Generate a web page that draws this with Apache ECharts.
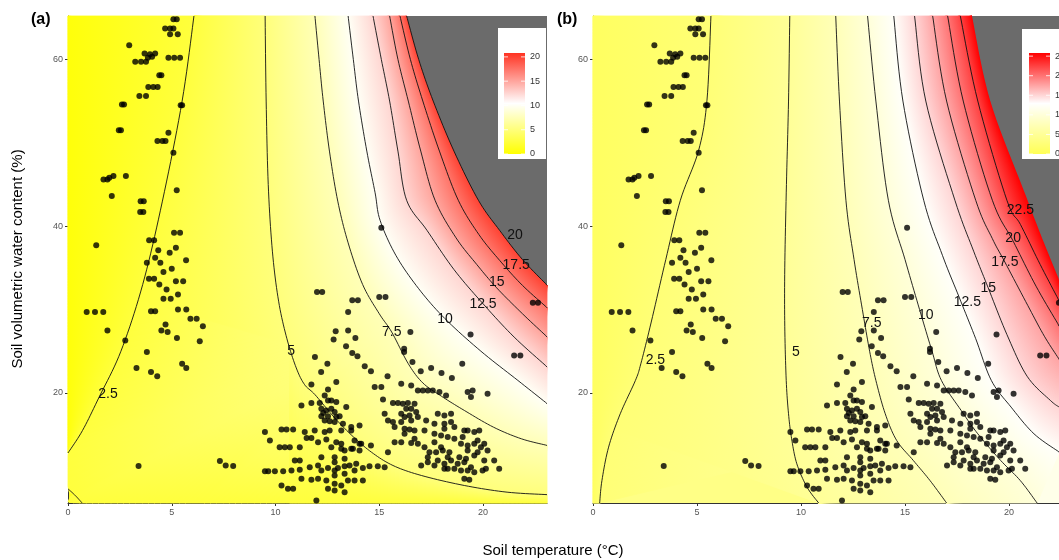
<!DOCTYPE html>
<html>
<head>
<meta charset="utf-8">
<script src="https://cdn.jsdelivr.net/npm/echarts@6/dist/echarts.min.js"></script>
<style>
html, body { margin: 0; padding: 0; background: #fff; }
#main { width: 1059px; height: 560px; }
</style>
</head>
<body>
<div id="main"></div>
<script>
// axis ticks
var xTicks = [0, 5, 10, 15, 20];
var yTicks = [20, 40, 60];
var legendTicksA = [0, 5, 10, 15, 20];
var legendTicksB = [0, 5, 10, 15, 20, 25];

// observations [soil temperature, water content], same in both panels
var soilPoints = [
  [5.08,64.8],[5.24,64.8],[4.68,63.7],[4.92,63.7],[5.08,63.7],[4.92,63.0],[5.29,63.0],
  [2.95,61.7],[3.24,59.7],[3.52,59.7],[3.76,59.7],[3.69,60.7],[3.95,60.6],[4.2,60.7],
  [3.85,60.2],[4.05,60.3],[4.84,60.2],[5.12,60.2],[5.4,60.2],[4.40,58.1],[4.50,58.1],
  [3.87,56.7],[4.11,56.7],[4.32,56.7],[3.44,55.6],[3.76,55.6],[2.60,54.6],[2.70,54.6],
  [5.43,54.5],[5.50,54.5],[2.45,51.5],[2.55,51.5],[4.84,51.2],[4.31,50.2],[4.55,50.2],
  [4.7,50.2],[5.08,48.8],[1.71,45.6],[1.9,45.6],[1.99,45.8],[2.19,46.0],[2.79,46.0],
  [2.11,43.6],[5.24,44.3],[3.5,43.0],[3.65,43.0],
  [3.48,41.7],[3.63,41.7],[1.36,37.7],[3.91,38.3],[4.15,38.3],[4.35,37.1],[5.11,39.2],
  [5.4,39.2],[5.69,35.9],[4.2,36.2],[4.45,35.6],[4.6,34.5],[3.9,33.7],[4.15,33.7],
  [4.4,33.0],[4.75,32.4],[5.2,33.4],[5.55,33.4],[4.6,31.3],[4.95,31.3],[4.0,29.8],
  [4.2,29.8],[5.3,30.0],[5.7,30.0],[5.9,28.9],[6.2,28.9],[6.5,28.0],[6.35,26.2],
  [4.5,27.5],[4.8,27.3],[5.25,26.6],[5.5,23.5],[5.7,23.0],[4.0,22.5],[4.3,22.0],
  [1.9,27.5],[0.9,29.7],[1.3,29.7],[1.7,29.7],[2.76,26.3],[3.3,23.0],[3.8,24.9],
  [5.0,34.9],[5.3,31.8],[4.7,28.2],[3.8,35.6],[4.9,36.8],[5.2,37.4],
  [15.1,39.8],[12.0,32.1],[12.25,32.1],[13.7,31.1],[13.97,31.1],[15.0,31.5],[15.3,31.5],
  [13.5,29.7],[12.8,26.4],[12.9,27.4],[13.5,27.5],[13.85,26.6],[13.4,25.6],[13.7,24.8],
  [13.95,24.4],[14.3,23.2],[14.6,22.6],[16.2,24.9],[16.5,27.3],[16.2,25.3],[16.6,23.7],
  [17.0,22.6],[17.5,23.0],[18.0,22.4],[18.5,21.8],[19.4,27.0],[19.0,23.5],[21.5,24.5],
  [21.8,24.5],[22.4,30.8],[22.65,30.8],[15.4,22.0],[12.2,22.5],[12.5,23.5],[11.9,24.3],
  [3.40,11.24],[7.32,11.84],[7.60,11.3],[7.96,11.24],[9.49,15.3],[9.73,14.3],
  [9.49,10.6],[9.65,10.6],[9.97,10.6],[10.37,10.6],[10.77,10.7],[11.17,10.8],
  [10.29,8.9],[10.6,8.5],[10.85,8.5],[10.29,15.6],[10.53,15.6],[10.85,15.6],
  [10.2,13.5],[10.45,13.5],[10.69,13.5],[11.17,13.5],[10.93,11.9],[11.17,11.9],
  [11.25,18.5],[11.73,18.8],[12.13,18.8],[12.53,19.1],[12.93,18.9],[11.73,21.0],
  [12.53,20.4],[12.93,21.3],[11.41,15.3],[11.89,15.5],[12.37,15.3],[12.61,15.5],
  [11.5,14.6],[11.73,14.6],[12.05,14.1],[12.45,14.4],[12.93,14.1],[13.17,13.9],
  [12.21,12.3],[12.85,12.3],[13.33,12.1],[12.3,17.6],[12.45,17.9],[12.21,17.2],
  [12.53,17.2],[12.69,18.1],[12.61,16.6],[12.85,16.5],[13.09,17.2],[11.65,11.1],
  [12.05,11.3],[12.21,10.7],[12.53,11.0],[12.85,10.7],[13.01,11.0],[13.33,11.2],
  [11.25,9.7],[11.73,9.6],[12.05,9.7],[12.45,9.5],[12.85,9.1],[13.17,8.9],[11.97,7.1],
  [12.53,8.5],[12.85,8.3],[13.33,8.1],[13.65,15.5],[14.05,16.1],[13.81,14.3],
  [14.13,13.9],[14.6,13.7],[13.33,13.1],[13.65,13.3],[14.05,13.1],[13.57,11.3],
  [13.89,11.5],[14.21,11.0],[14.53,11.2],[14.93,11.2],[15.26,11.1],[13.49,9.5],
  [13.81,9.5],[14.21,9.5],[15.42,12.9],[14.78,20.7],[15.1,20.7],[15.18,19.2],
  [15.66,18.8],[15.9,18.8],[16.14,18.7],[16.38,18.8],[16.7,18.7],[15.66,16.5],
  [16.06,16.5],[16.22,17.1],[15.74,14.1],[16.06,14.1],[16.54,14.0],[16.86,13.9],
  [16.22,15.7],[16.46,15.6],[16.7,15.5],[17.18,15.5],[16.3,18.1],[16.54,18.1],
  [16.78,17.7],[16.46,17.3],[16.06,21.1],[16.54,20.9],[16.86,20.3],[17.1,20.3],
  [17.34,20.3],[17.58,20.3],[17.9,20.1],[18.22,19.7],[17.02,11.3],[17.34,11.7],
  [17.66,11.3],[18.14,11.5],[17.42,12.9],[17.74,12.9],[18.06,13.1],[18.38,12.9],
  [17.66,15.1],[17.98,14.9],[18.3,14.7],[18.62,14.5],[19.02,14.7],[17.82,17.5],
  [18.14,17.3],[18.46,17.5],[18.14,16.3],[18.46,16.5],[18.3,10.9],[18.62,10.9],
  [18.94,10.7],[18.86,12.3],[19.18,12.1],[19.58,12.5],[20.06,11.9],[19.1,9.7],
  [19.34,9.6],[19.26,20.1],[19.42,19.5],[19.5,20.3],[20.22,19.9],[19.26,15.5],
  [19.58,15.3],[19.82,15.5],[19.26,13.1],[19.74,12.9],[20.22,13.1],[19.98,10.7],
  [20.14,10.9],[20.78,10.9],[19.58,13.9],[20.06,13.9],[20.54,11.9],
  [12.37,19.7],[12.69,19.1],[12.21,18.1],[12.85,17.7],[13.41,18.3],[12.37,16.7],
  [12.93,17.1],[13.25,16.3],[13.17,15.5],[13.65,15.9],[12.69,13.5],[13.17,13.3],
  [13.73,13.3],[14.05,13.9],[12.85,11.7],[13.33,10.3],[13.81,10.7],[12.85,10.1],
  [16.06,17.5],[16.54,16.7],[16.86,17.1],[17.26,16.7],[16.22,15.1],[16.7,14.5],
  [17.18,13.5],[17.66,14.1],[17.98,13.5],[18.3,12.3],[17.34,12.3],[17.82,11.9],
  [18.46,11.9],[18.78,11.5],[19.1,11.7],[19.42,11.1],[18.14,10.9],[19.26,10.7],
  [19.58,10.5],[17.66,16.3],[18.14,15.7],[18.62,15.9],[19.1,15.5],[18.94,13.9],
  [19.26,13.7],[19.74,14.3],[19.9,13.5],[15.26,17.5],[15.42,16.7],[15.74,15.9]
];

// panel (a) contour lines, each from the top edge downwards
var a25 = [[6.07,65.2],[5.5,55],[4.55,43],[3.6,33],[2.55,25],[1.5,19.5],[0.7,15.5],[0,12.8]];
var a25corner = [[0,8.5],[0.35,7.7],[0.68,6.8]];
var a50 = [[9.5,65.2],[9.55,55],[9.65,45],[9.85,37],[10.15,31],[10.55,26.5],[11.0,23],[11.4,21],[11.9,19.8],[12.82,17.1],[13.68,14.9],[14.62,12.9],[15.66,11.3],[17.03,10.1],[19.1,8.9],[21.16,8.1],[23.1,7.8]];
var a75 = [[11.9,65.2],[12.1,60],[12.3,55],[12.6,49],[13.0,43],[13.5,38],[14.2,33],[15.0,29.5],[15.6,27.3],[16.4,23.5],[17.1,21.2],[18.0,19.6],[19.1,17.9],[20.5,15.9],[21.85,14.5],[23.1,13.7]];
var a100 = [[13.5,65.2],[13.75,60],[14.0,55],[14.4,49],[14.8,44],[15.04,40.7],[15.8,36.5],[16.9,32.5],[18.17,28.9],[19.9,25],[21.68,21.5],[23.1,18.7]];
var a125 = [[14.7,65.2],[15.1,60],[15.5,55],[15.9,49],[16.32,43.1],[17.3,39.5],[18.6,34.8],[20.0,30.7],[21.5,26.7],[23.1,23.1]];
var a150 = [[15.5,65.2],[15.9,60],[16.4,55],[17.0,49],[17.69,43.1],[18.7,38.6],[19.7,35.4],[20.66,32.6],[21.9,29.5],[23.1,26.7]];
var a175 = [[16.0,65.2],[16.5,60],[17.1,55],[17.9,49],[18.81,43.1],[19.8,39.0],[20.8,35.9],[21.9,32.9],[23.1,30.2]];
var a200 = [[16.32,65.2],[16.9,60],[17.6,55],[18.6,49],[19.78,43.1],[20.8,39.5],[21.9,36.0],[23.1,32.9]];
var labelsA = [[1.93,19.9,'2.5'],[10.75,25,'5'],[15.6,27.3,'7.5'],[18.17,28.9,'10'],[20.0,30.7,'12.5'],[20.66,33.3,'15'],[21.6,35.3,'17.5'],[21.54,38.9,'20']];

// panel (b) contour lines
var b25 = [[5.67,65.2],[5.48,55.1],[5.08,49.1],[4.2,43.1],[3.5,36],[2.8,28.5],[2.3,23.5],[2.04,21.5],[1.31,17.5],[0.75,13.5],[0.43,9.5],[0.32,6.8]];
var b50 = [[9.46,65.2],[9.4,55],[9.3,45],[9.22,35],[9.22,28],[9.29,21.5],[9.4,17.5],[9.55,14.5],[9.8,11.5],[10.29,8.7],[10.85,6.8]];
var b75 = [[11.67,65.2],[11.85,55],[12.16,43.1],[12.55,36],[12.95,30],[13.3,25],[13.6,21.5],[14.05,17.5],[14.6,14.3],[15.4,11.9],[16.2,9.5],[17.0,6.8]];
var b100 = [[13.2,65.2],[13.6,55],[14.2,43.1],[15.0,36],[15.7,30],[16.3,25],[16.75,21.5],[17.7,17.9],[18.5,15.1],[19.6,11.9],[20.54,9.5],[21.35,6.8]];
var b125 = [[14.46,65.2],[14.9,55],[15.9,43.1],[16.8,36.5],[17.6,31.5],[18.4,26.5],[19.15,21.5],[20.1,18.3],[21.2,15.1],[22.42,12.9]];
var b150 = [[15.46,65.2],[16.0,55],[17.4,43.1],[18.3,37],[19.0,32.6],[19.9,27],[20.87,22],[21.99,19.1],[22.42,18.3]];
var b175 = [[16.33,65.2],[17.0,55],[18.4,43.1],[19.2,38.5],[19.8,35.7],[20.9,30.5],[21.7,26.8],[22.42,24]];
var b200 = [[17.05,65.2],[17.8,55],[19.2,43.1],[20.2,38.2],[21.3,32.8],[22.42,28]];
var b225 = [[17.66,65.2],[18.5,55],[19.9,43.1],[20.55,40.2],[21.5,35.4],[22.42,31]];
var bEdge = [[18.22,65.2],[19.1,55],[20.8,43.7],[21.6,38.5],[22.42,33.5]];
var labelsB = [[3.0,23.9,'2.5'],[9.75,24.9,'5'],[13.4,28.4,'7.5'],[16.0,29.3,'10'],[18.0,30.9,'12.5'],[19.0,32.6,'15'],[19.8,35.7,'17.5'],[20.2,38.6,'20'],[20.55,41.9,'22.5']];

// colour ramps (yellow - white - red)
var rampA = [[0, '#ffff00'], [10.4, '#ffffff'], [20.8, '#ff3322']];
var rampB = [[0, '#ffff55'], [12.9, '#ffffff'], [25.8, '#ff0000']];
var naGrey = '#6b6b6b';

function hex(c) { return [parseInt(c.substr(1, 2), 16), parseInt(c.substr(3, 2), 16), parseInt(c.substr(5, 2), 16)]; }
function rampColour(ramp, v) {
  for (var i = 0; i < ramp.length - 1; i++) {
    if (v <= ramp[i + 1][0] || i === ramp.length - 2) {
      var t = (v - ramp[i][0]) / (ramp[i + 1][0] - ramp[i][0]);
      t = Math.max(0, Math.min(1, t));
      var c0 = hex(ramp[i][1]), c1 = hex(ramp[i + 1][1]);
      return 'rgb(' + c0.map(function (c, k) { return Math.round(c + (c1[k] - c) * t); }).join(',') + ')';
    }
  }
}

// solid underlay: region beyond each line
var layersA = [
  { pieces: [a25, a25corner], v: 3.2 }, { pieces: [a50], v: 6.25 }, { pieces: [a75], v: 8.75 },
  { pieces: [a100], v: 11.25 }, { pieces: [a125], v: 13.75 }, { pieces: [a150], v: 16.25 },
  { pieces: [a175], v: 18.75 }
];
var layersB = [
  { pieces: [b25], v: 3.75 }, { pieces: [b50], v: 6.25 }, { pieces: [b75], v: 8.75 },
  { pieces: [b100], v: 11.25 }, { pieces: [b125], v: 13.75 }, { pieces: [b150], v: 16.25 },
  { pieces: [b175], v: 18.75 }, { pieces: [b200], v: 21.25 }, { pieces: [b225], v: 23.75 }
];
// shaded bands between neighbouring lines (plot edges close the open ones)
var bandsA = [
  { c1: [[0,65.2],[0,12.8]], v1: 0.4, c2: a25, v2: 2.5 },
  { c1: a25.concat(a25corner, [[23.1,6.8]]), v1: 2.5, c2: a50, v2: 5 }, { c1: a50, v1: 5, c2: a75, v2: 7.5 },
  { c1: a75, v1: 7.5, c2: a100, v2: 10 }, { c1: a100, v1: 10, c2: a125, v2: 12.5 },
  { c1: a125, v1: 12.5, c2: a150, v2: 15 }, { c1: a150, v1: 15, c2: a175, v2: 17.5 },
  { c1: a175, v1: 17.5, c2: a200, v2: 20 }
];
var bandsB = [
  { c1: [[0,65.2],[0,6.8]], v1: 0.8, c2: b25, v2: 2.5 },
  { c1: b25, v1: 2.5, c2: b50, v2: 5 }, { c1: b50, v1: 5, c2: b75, v2: 7.5 },
  { c1: b75, v1: 7.5, c2: b100, v2: 10 }, { c1: b100, v1: 10, c2: b125, v2: 12.5 },
  { c1: b125, v1: 12.5, c2: b150, v2: 15 }, { c1: b150, v1: 15, c2: b175, v2: 17.5 },
  { c1: b175, v1: 17.5, c2: b200, v2: 20 }, { c1: b200, v1: 20, c2: b225, v2: 22.5 },
  { c1: b225, v1: 22.5, c2: bEdge, v2: 25.8 }
];
var linesA = [a25, a25corner, a50, a75, a100, a125, a150, a175, a200];
var linesB = [b25, b50, b75, b100, b125, b150, b175, b200, b225];

// catmull-rom through pixel points
function spline(p) {
  var out = [];
  for (var i = 0; i < p.length - 1; i++) {
    var p0 = p[i - 1] || p[i], p1 = p[i], p2 = p[i + 1], p3 = p[i + 2] || p[i + 1];
    for (var s = 0; s < 10; s++) {
      var t = s / 10, t2 = t * t, t3 = t2 * t, q = [];
      for (var k = 0; k < 2; k++) {
        q.push(0.5 * (2 * p1[k] + (-p0[k] + p2[k]) * t + (2 * p0[k] - 5 * p1[k] + 4 * p2[k] - p3[k]) * t2 + (-p0[k] + 3 * p1[k] - 3 * p2[k] + p3[k]) * t3));
      }
      out.push(q);
    }
  }
  out.push(p[p.length - 1]);
  return out;
}
function clamp(pts, r) {
  return pts.map(function (p) {
    return [Math.min(Math.max(p[0], r.x), r.x + r.width), Math.min(Math.max(p[1], r.y), r.y + r.height)];
  });
}
function dist(a, b) { return Math.sqrt((a[0] - b[0]) * (a[0] - b[0]) + (a[1] - b[1]) * (a[1] - b[1])); }
function resample(P, n) {
  var cum = [0];
  for (var i = 1; i < P.length; i++) cum.push(cum[i - 1] + dist(P[i - 1], P[i]));
  var total = cum[cum.length - 1], out = [], j = 0;
  for (var s = 0; s <= n; s++) {
    var d = total * s / n;
    while (j < P.length - 2 && cum[j + 1] < d) j++;
    var seg = cum[j + 1] - cum[j], t = seg > 0 ? (d - cum[j]) / seg : 0;
    out.push([P[j][0] + (P[j + 1][0] - P[j][0]) * t, P[j][1] + (P[j + 1][1] - P[j][1]) * t]);
  }
  return out;
}
function nearest(Q, a) {
  var best = null, bd = Infinity;
  for (var i = 0; i < Q.length - 1; i++) {
    var p = Q[i], q = Q[i + 1], dx = q[0] - p[0], dy = q[1] - p[1], L = dx * dx + dy * dy;
    var t = L > 0 ? ((a[0] - p[0]) * dx + (a[1] - p[1]) * dy) / L : 0;
    t = Math.max(0, Math.min(1, t));
    var c = [p[0] + dx * t, p[1] + dy * t], d = dist(a, c);
    if (d < bd) { bd = d; best = c; }
  }
  return best;
}
function quads(P, Q, colP, colQ) {
  var A = resample(P, 160), out = [];
  var B = A.map(function (a) { return nearest(Q, a); });
  for (var i = 0; i < A.length - 1; i++) {
    var da = dist(A[i], A[i + 1]), db = dist(B[i], B[i + 1]);
    if (db > 6 * da + 12) continue;
    var m1 = [(A[i][0] + A[i + 1][0]) / 2, (A[i][1] + A[i + 1][1]) / 2];
    var m2 = [(B[i][0] + B[i + 1][0]) / 2, (B[i][1] + B[i + 1][1]) / 2];
    if (dist(m1, m2) < 0.5) continue;
    var g = new echarts.graphic.LinearGradient(m1[0], m1[1], m2[0], m2[1], [{ offset: 0, color: colP }, { offset: 1, color: colQ }], true);
    out.push({ type: 'polygon', shape: { points: [A[i], A[i + 1], B[i + 1], B[i]] }, style: { fill: g, stroke: g, lineWidth: 0.8 } });
  }
  return out;
}

function regionPolygon(api, r, pieces) {
  var ring = [];
  pieces.forEach(function (pc) { ring = ring.concat(spline(pc.map(function (p) { return api.coord(p); }))); });
  var first = ring[0], last = ring[ring.length - 1];
  ring.push([r.x + r.width + 20, last[1]], [r.x + r.width + 20, r.y - 20], [first[0], r.y - 20]);
  return clamp(ring, r);
}
function underlaySeries(idx, layers, ramp) {
  return {
    type: 'custom', xAxisIndex: idx, yAxisIndex: idx, z: 1, silent: true,
    data: layers.map(function (l, i) { return [i, 30]; }),
    renderItem: function (params, api) {
      var layer = layers[params.dataIndex];
      return { type: 'polygon', shape: { points: regionPolygon(api, params.coordSys, layer.pieces) }, style: { fill: rampColour(ramp, layer.v) } };
    }
  };
}
function gradientSeries(idx, bands, ramp) {
  return {
    type: 'custom', xAxisIndex: idx, yAxisIndex: idx, z: 2, silent: true,
    data: bands.map(function (b, i) { return [i, 30]; }),
    renderItem: function (params, api) {
      var b = bands[params.dataIndex], r = params.coordSys;
      var P1 = clamp(spline(b.c1.map(function (p) { return api.coord(p); })), r);
      var P2 = clamp(spline(b.c2.map(function (p) { return api.coord(p); })), r);
      var k1 = rampColour(ramp, b.v1), k2 = rampColour(ramp, b.v2);
      return { type: 'group', children: quads(P1, P2, k1, k2).concat(quads(P2, P1, k2, k1)) };
    }
  };
}
function greySeries(idx, edge) {
  return {
    type: 'custom', xAxisIndex: idx, yAxisIndex: idx, z: 3, silent: true,
    data: [[0, 30]],
    renderItem: function (params, api) {
      return { type: 'polygon', shape: { points: regionPolygon(api, params.coordSys, [edge]) }, style: { fill: naGrey } };
    }
  };
}
function lineSeries(idx, lines) {
  return {
    type: 'custom', xAxisIndex: idx, yAxisIndex: idx, z: 4, silent: true,
    data: lines.map(function (l, i) { return [i, 30]; }),
    renderItem: function (params, api) {
      var pts = spline(lines[params.dataIndex].map(function (p) { return api.coord(p); }));
      return { type: 'polyline', shape: { points: clamp(pts, params.coordSys) }, style: { stroke: '#111', lineWidth: 0.9, fill: null } };
    }
  };
}
function labelSeries(idx, labels) {
  return {
    type: 'custom', xAxisIndex: idx, yAxisIndex: idx, z: 5, silent: true,
    data: labels.map(function (l) { return [l[0], l[1]]; }),
    renderItem: function (params, api) {
      var c = api.coord([api.value(0), api.value(1)]);
      return { type: 'text', x: c[0], y: c[1], style: { text: labels[params.dataIndex][2], fill: '#111', font: '14px "Liberation Sans", Arial, sans-serif', align: 'center', verticalAlign: 'middle' } };
    }
  };
}

function xAxis(idx, max) {
  return {
    type: 'value', gridIndex: idx, min: 0, max: max,
    axisLine: { lineStyle: { color: '#333', width: 1 } },
    axisTick: { length: 3, lineStyle: { color: '#333' }, customValues: xTicks },
    axisLabel: { color: '#555', fontSize: 9, margin: 5, fontFamily: 'Liberation Sans', customValues: xTicks },
    splitLine: { show: false }
  };
}
function yAxis(idx) {
  return {
    type: 'value', gridIndex: idx, min: 6.8, max: 65.2,
    axisLine: { show: true, lineStyle: { color: '#333', width: 1 } },
    axisTick: { show: true, length: 3, lineStyle: { color: '#333' }, customValues: yTicks },
    axisLabel: { color: '#555', fontSize: 9, margin: 5, fontFamily: 'Liberation Sans', customValues: yTicks },
    splitLine: { show: false }
  };
}

// colour bar legend drawn as graphic elements
function legendGraphics(box, bar, ramp, ticks, maxVal) {
  var els = [];
  els.push({ type: 'rect', shape: { x: box[0], y: box[1], width: box[2], height: box[3] }, style: { fill: '#fff' }, z: 100 });
  var stops = ramp.map(function (s) { return { offset: s[0] / maxVal, color: s[1] }; });
  els.push({ type: 'rect', shape: { x: bar[0], y: bar[1], width: bar[2], height: bar[3] },
    style: { fill: new echarts.graphic.LinearGradient(0, 1, 0, 0, stops) }, z: 101 });
  ticks.forEach(function (t) {
    var y = bar[1] + bar[3] - t / maxVal * bar[3];
    els.push({ type: 'line', shape: { x1: bar[0], y1: y, x2: bar[0] + 4, y2: y }, style: { stroke: 'rgba(255,255,255,0.8)', lineWidth: 1 }, z: 102 });
    els.push({ type: 'line', shape: { x1: bar[0] + bar[2] - 4, y1: y, x2: bar[0] + bar[2], y2: y }, style: { stroke: 'rgba(255,255,255,0.8)', lineWidth: 1 }, z: 102 });
    els.push({ type: 'text', x: bar[0] + bar[2] + 5, y: y, style: { text: String(t), fill: '#333', font: '9px "Liberation Sans", Arial, sans-serif', verticalAlign: 'middle' }, z: 102 });
  });
  return els;
}

var chart = echarts.init(document.getElementById('main'), null, { renderer: 'canvas' });

chart.setOption({
  animation: false,
  backgroundColor: '#fff',
  grid: [
    { left: 68, top: 16, width: 479, height: 487, show: true, borderWidth: 0, backgroundColor: rampColour(rampA, 1.25) },
    { left: 593, top: 16, width: 466, height: 487, show: true, borderWidth: 0, backgroundColor: rampColour(rampB, 1.25) }
  ],
  xAxis: [xAxis(0, 479 / 20.75), xAxis(1, 466 / 20.8)],
  yAxis: [yAxis(0), yAxis(1)],
  series: [
    underlaySeries(0, layersA, rampA), underlaySeries(1, layersB, rampB),
    gradientSeries(0, bandsA, rampA), gradientSeries(1, bandsB, rampB),
    greySeries(0, a200), greySeries(1, bEdge),
    lineSeries(0, linesA), lineSeries(1, linesB),
    labelSeries(0, labelsA), labelSeries(1, labelsB),
    { type: 'scatter', xAxisIndex: 0, yAxisIndex: 0, data: soilPoints, symbolSize: 6, itemStyle: { color: '#000' }, z: 6, silent: true },
    { type: 'scatter', xAxisIndex: 1, yAxisIndex: 1, data: soilPoints, symbolSize: 6, itemStyle: { color: '#000' }, z: 6, silent: true }
  ],
  graphic: [
    { type: 'text', x: 31, y: 20, style: { text: '(a)', fill: '#000', font: 'bold 16px "Liberation Sans", Arial, sans-serif', verticalAlign: 'middle' }, z: 100 },
    { type: 'text', x: 557, y: 20, style: { text: '(b)', fill: '#000', font: 'bold 16px "Liberation Sans", Arial, sans-serif', verticalAlign: 'middle' }, z: 100 },
    { type: 'text', x: 553, y: 551, style: { text: 'Soil temperature (°C)', fill: '#000', font: '15px "Liberation Sans", Arial, sans-serif', align: 'center', verticalAlign: 'middle' }, z: 100 },
    { type: 'text', x: 18, y: 259, rotation: Math.PI / 2, style: { text: 'Soil volumetric water content (%)', fill: '#000', font: '15px "Liberation Sans", Arial, sans-serif', align: 'center', verticalAlign: 'middle' }, z: 100 }
  ].concat(legendGraphics([498, 28, 48, 131], [504, 53, 21, 101], rampA, legendTicksA, 20.8))
   .concat(legendGraphics([1022, 29, 40, 130], [1029, 53, 21, 101], rampB, legendTicksB, 25.8))
});
</script>
</body>
</html>
